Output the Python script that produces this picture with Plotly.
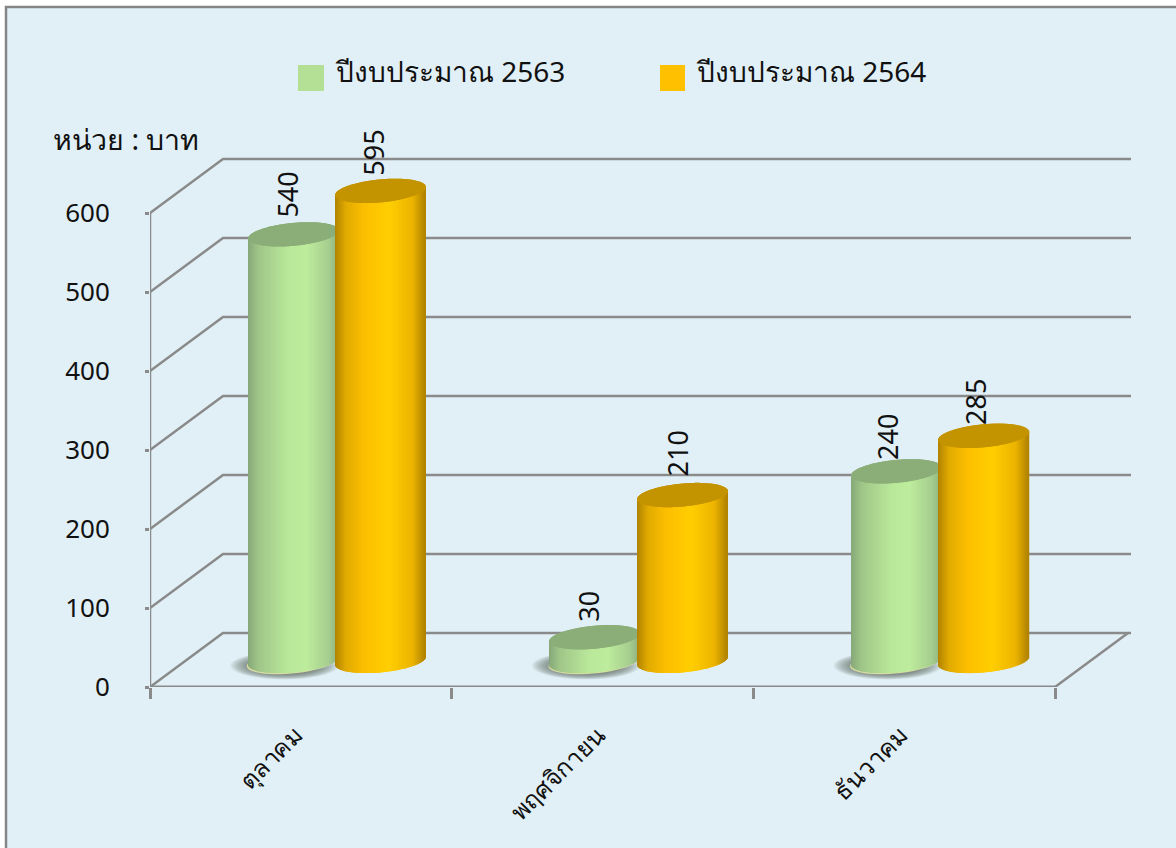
import numpy as np
import plotly.graph_objects as go

categories = ["ตุลาคม", "พฤศจิกายน", "ธันวาคม"]
series_2563 = [540, 30, 240]
series_2564 = [595, 210, 285]
series_names = ["ปีงบประมาณ 2563", "ปีงบประมาณ 2564"]
y_ticks = [0, 100, 200, 300, 400, 500, 600]
unit_label = "หน่วย : บาท"

FONT = "Noto Sans, DejaVu Sans, sans-serif"
TEXT = "#111111"
GRID = "#8a8a8a"
PANEL = "#e1f0f6"

# plot frame in page pixels
PX_L, PX_R, PX_T, PX_B = 150, 1131, 157, 687
PX_PER_CAT = 301.67
PX_PER_VAL = 0.79
X0 = -0.5
X1 = 2.5
DX = 73 / PX_PER_CAT          # wall depth on x
DY = 54 / PX_PER_VAL          # wall depth on y
YMAX = (PX_B - PX_T) / PX_PER_VAL
XMAX = X0 + (PX_R - PX_L) / PX_PER_CAT

FLOOR = 33.0                  # cylinder base centre above the front axis
HALF_W = 45 / PX_PER_CAT
ELL_B = 11.5 / PX_PER_VAL
TILT = 4 / PX_PER_VAL
OFFSETS = [-0.025, 0.265]
LABEL_LIFT = [[15, 14, 9], [13, 17, 9]]
LABEL_SIDE = [[-6, -6, -9], [-7, -5, -8]]


def lerp_stops(stops, t):
    pos = [s[0] for s in stops]
    rgb = [np.interp(t, pos, [s[1][i] for s in stops]) for i in range(3)]
    return "rgb(%d,%d,%d)" % tuple(int(round(c)) for c in rgb)


GREEN = [(0, (134, 168, 120)), (0.12, (160, 198, 136)), (0.45, (186, 232, 154)),
         (0.65, (189, 236, 156)), (0.9, (165, 205, 142)), (1, (142, 176, 126))]
ORANGE = [(0, (176, 130, 0)), (0.12, (224, 170, 0)), (0.32, (252, 190, 0)),
          (0.6, (255, 206, 0)), (0.86, (236, 180, 0)), (1, (176, 130, 0))]
TOPS = ["#8bae78", "#c49300"]


def cylinder_trace(values, offsets, stops, top_color, name):
    xs, bases, heights, colors = [], [], [], []
    step = 1 / PX_PER_CAT
    n = int(round(2 * HALF_W / step))
    us = (np.arange(n) + 0.5) / n * 2 - 1
    for i, v in enumerate(values):
        cx = i + offsets
        for u in us:
            arc = ELL_B * np.sqrt(1 - u * u)
            mid = FLOOR + TILT * u
            xs.append(cx + u * HALF_W)
            bases.append(mid - arc)
            heights.append(v + arc)
            colors.append(lerp_stops(stops, (u + 1) / 2))
        for u in us:
            arc = ELL_B * np.sqrt(1 - u * u)
            mid = FLOOR + v + TILT * u
            xs.append(cx + u * HALF_W)
            bases.append(mid - arc)
            heights.append(2 * arc)
            colors.append(top_color)
    return go.Bar(x=xs, y=heights, base=bases, width=step * 1.25,
                  marker=dict(color=colors, line=dict(width=0)),
                  name=name, showlegend=False, hoverinfo="skip")


def ellipse_path(cx, cy, a, b, tilt=0.0, n=48):
    t = np.linspace(0, 2 * np.pi, n, endpoint=False)
    xs = cx + a * np.cos(t)
    ys = cy + b * np.sin(t) + tilt * np.cos(t)
    return "M " + " L ".join(f"{x:.4f},{y:.3f}" for x, y in zip(xs, ys)) + " Z"


shapes = []


def px_x(p):
    return (p - PX_L) / (PX_R - PX_L)


def px_y(p):
    return (PX_B - p) / (PX_B - PX_T)


# panel
shapes.append(dict(type="rect", xref="paper", yref="paper", layer="below",
                   x0=px_x(6), x1=px_x(1190), y0=px_y(860), y1=px_y(7),
                   fillcolor=PANEL, line=dict(color="#868686", width=2.5)))

# walls, floor and axis lines, from the tick values
for v in y_ticks:
    shapes.append(dict(type="path", xref="x", yref="y", layer="below",
                       path=f"M {X0},{v} L {X0 + DX},{v + DY} L {XMAX},{v + DY}",
                       line=dict(color=GRID, width=2.5)))
shapes.append(dict(type="line", xref="x", yref="y", layer="below", x0=X0, x1=X0,
                   y0=0, y1=600, line=dict(color=GRID, width=2.5)))
shapes.append(dict(type="line", xref="x", yref="y", layer="below", x0=X0, x1=X1,
                   y0=0, y1=0, line=dict(color=GRID, width=3)))
shapes.append(dict(type="line", xref="x", yref="y", layer="below", x0=X1, x1=X1 + DX,
                   y0=0, y1=DY, line=dict(color=GRID, width=2.5)))

# soft contact shadows under the green cylinders
for i in range(len(categories)):
    cx = i + OFFSETS[0] - 9 / PX_PER_CAT
    for grow in [1.2, 1.16, 1.12, 1.08, 1.04, 1.0, 0.96, 0.92, 0.88, 0.84, 0.8, 0.76]:
        shapes.append(dict(type="path", xref="x", yref="y", layer="below",
                           path=ellipse_path(cx, FLOOR - 6, HALF_W * grow, ELL_B * grow),
                           fillcolor="#56605c", opacity=0.09, line=dict(width=0)))
    shapes.append(dict(type="path", xref="x", yref="y", layer="below",
                       path=ellipse_path(i + OFFSETS[0] - 1.5 / PX_PER_CAT, FLOOR - 1.5,
                                         HALF_W, ELL_B, TILT),
                       fillcolor="#d8dca0", line=dict(width=0)))

# legend swatches
legend_px = [(298, 324, "#b3e095"), (660, 685, "#ffc000")]
for a, b, c in legend_px:
    shapes.append(dict(type="rect", xref="paper", yref="paper", layer="below",
                       x0=px_x(a), x1=px_x(b), y0=px_y(91), y1=px_y(65),
                       fillcolor=c, line=dict(width=0)))

annotations = []


def page_text(text, x, y, size=25):
    annotations.append(dict(text=text, xref="paper", yref="paper", x=px_x(x), y=px_y(y),
                            xanchor="left", yanchor="middle", showarrow=False,
                            font=dict(family=FONT, size=size, color=TEXT)))


page_text(series_names[0], 333, 71, 28)
page_text(series_names[1], 694, 71, 28)
page_text(unit_label, 51, 139, 28.5)

for s, (vals, off) in enumerate(((series_2563, OFFSETS[0]), (series_2564, OFFSETS[1]))):
    for i, v in enumerate(vals):
        annotations.append(dict(text=str(v), x=i + off + LABEL_SIDE[s][i] / PX_PER_CAT,
                                y=FLOOR + v, xref="x", yref="y", yshift=LABEL_LIFT[s][i],
                                showarrow=False, textangle=-90, xanchor="center",
                                yanchor="bottom",
                                font=dict(family=FONT, size=27, color=TEXT)))

fig = go.Figure([
    cylinder_trace(series_2563, OFFSETS[0], GREEN, TOPS[0], series_names[0]),
    cylinder_trace(series_2564, OFFSETS[1], ORANGE, TOPS[1], series_names[1]),
])

fig.update_layout(
    width=1176, height=848, autosize=False,
    margin=dict(l=PX_L, r=1176 - PX_R, t=PX_T, b=848 - PX_B, pad=0),
    paper_bgcolor="white", plot_bgcolor="rgba(0,0,0,0)",
    barmode="overlay", showlegend=False, shapes=shapes, annotations=annotations,
    font=dict(family=FONT, color=TEXT),
    xaxis=dict(range=[X0, XMAX], tickmode="array", tickvals=[-0.018, 0.985, 1.988],
               ticktext=categories,
               tickangle=-45, ticks="", showgrid=False, zeroline=False, showline=False,
               tickfont=dict(family=FONT, size=24.5, color=TEXT),
               ticklabelstandoff=28,
               minor=dict(tickmode="array", tickvals=[-0.5, 0.5, 1.5, 2.5], ticks="outside",
                          ticklen=11, tickwidth=2.5, tickcolor=GRID, showgrid=False)),
    yaxis=dict(range=[0, YMAX], tickmode="array", tickvals=y_ticks, ticks="outside",
               ticklen=4, tickwidth=2.5, tickcolor=GRID, showgrid=False, zeroline=False,
               showline=False, tickfont=dict(family=FONT, size=26, color=TEXT),
               ticklabelstandoff=30),
)

fig.write_html("out.html", config={"displayModeBar": False},
               post_script="document.body.style.margin='0';")
